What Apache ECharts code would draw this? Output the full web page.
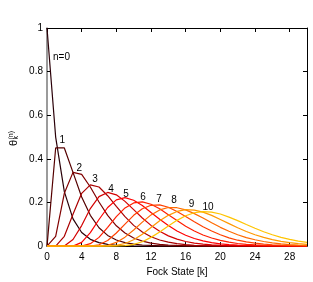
<!DOCTYPE html>
<html><head><meta charset="utf-8">
<script src="https://cdn.jsdelivr.net/npm/echarts@6/dist/echarts.min.js"></script>
<style>html,body{margin:0;padding:0;background:#fff}#c{width:313px;height:282px}</style>
</head><body><div id="c"></div>
<script>
const fockStates = [0,1,2,3,4,5,6,7,8,9,10,11,12,13,14,15,16,17,18,19,20,21,22,23,24,25,26,27,28,29,30];

const theta0 = [1,0.5,0.25,0.125,0.0625,0.031,0.016,0.008,0.004,0.002,0.001,0.0005,0,0,0,0,0,0,0,0,0,0,0,0,0,0,0,0,0,0,0];
const theta1 = [0,0.45,0.45,0.338,0.225,0.141,0.084,0.049,0.028,0.016,0.009,0.005,0.003,0.0014,0.0008,0.0004,0,0,0,0,0,0,0,0,0,0,0,0,0,0,0];
const theta2 = [0,0.045,0.242,0.338,0.329,0.271,0.202,0.141,0.093,0.060,0.037,0.023,0.014,0.008,0.005,0.003,0.0015,0.0008,0.0004,0,0,0,0,0,0,0,0,0,0,0,0];
const theta3 = [0,0,0.045,0.146,0.242,0.281,0.271,0.231,0.182,0.135,0.095,0.065,0.043,0.028,0.018,0.011,0.007,0.004,0.0025,0.0015,0.0008,0,0,0,0,0,0,0,0,0,0];
const theta4 = [0,0,0,0.03,0.094,0.172,0.227,0.246,0.235,0.205,0.167,0.129,0.095,0.068,0.047,0.032,0.021,0.014,0.009,0.0056,0.0035,0.0021,0.0014,0.0006,0,0,0,0,0,0,0];
const theta5 = [0,0,0,0,0.017,0.062,0.122,0.177,0.212,0.222,0.210,0.186,0.154,0.123,0.094,0.069,0.050,0.035,0.024,0.016,0.0105,0.0069,0.0045,0.0028,0.0017,0.0011,0.0004,0,0,0,0];
const theta6 = [0,0,0,0,0,0.011,0.040,0.086,0.135,0.175,0.198,0.203,0.192,0.171,0.144,0.117,0.091,0.069,0.051,0.037,0.026,0.018,0.012,0.008,0.0054,0.0035,0.0023,0.0015,0.001,0.0006,0.0004];
const theta7 = [0,0,0,0,0,0,0.006,0.026,0.060,0.101,0.141,0.171,0.187,0.189,0.178,0.159,0.136,0.112,0.089,0.069,0.052,0.038,0.027,0.019,0.0135,0.0092,0.0063,0.0042,0.0027,0.0018,0.0012];
const theta8 = [0,0,0,0,0,0,0,0.004,0.017,0.041,0.074,0.110,0.143,0.166,0.177,0.176,0.166,0.149,0.129,0.107,0.086,0.068,0.052,0.039,0.029,0.021,0.0147,0.0103,0.007,0.0049,0.0032];
const theta9 = [0,0,0,0,0,0,0,0,0.003,0.012,0.029,0.054,0.085,0.116,0.141,0.159,0.167,0.165,0.156,0.141,0.122,0.103,0.084,0.067,0.052,0.040,0.030,0.022,0.016,0.011,0.008];
const theta10 = [0,0,0,0,0,0,0,0,0,0.002,0.008,0.020,0.040,0.065,0.092,0.118,0.139,0.153,0.158,0.156,0.147,0.133,0.117,0.099,0.082,0.066,0.052,0.040,0.031,0.023,0.017];

const curveNames = ['n=0','1','2','3','4','5','6','7','8','9','10'];
const curveLabelK = [0.69,1.44,3.40,5.22,7.06,8.79,10.75,12.6,14.33,16.37,17.94];
const curveLabelV = [0.868,0.484,0.356,0.307,0.261,0.239,0.224,0.215,0.208,0.190,0.179];

const xTicks = [0,4,8,12,16,20,24,28];
const yTicks = [0,0.2,0.4,0.6,0.8,1];

const curves = [theta0,theta1,theta2,theta3,theta4,theta5,theta6,theta7,theta8,theta9,theta10];
const colors = ['#2a0008','#550000','#800000','#aa0000','#d40000','#ff0000','#ff1e00','#ff4000','#ff6a00','#ff9800','#ffc400'];

const FONT = '"Liberation Sans", Arial, Helvetica, sans-serif';
const chart = echarts.init(document.getElementById('c'), null, {renderer:'canvas'});

const lineSeries = curves.map((vals, i) => ({
  type: 'line',
  xAxisIndex: 0, yAxisIndex: 0,
  data: vals.map((v, j) => [fockStates[j], v]),
  showSymbol: false,
  symbol: 'none',
  lineStyle: {color: colors[i], width: 1.2},
  itemStyle: {color: colors[i]},
  z: 3 + i,
  silent: true
}));

const axisCommon = {
  splitLine: {show: false},
  axisTick: {show: true, inside: true, length: 4, lineStyle: {color: '#000', width: 1}},
  axisLine: {show: true, onZero: false, lineStyle: {color: '#000', width: 1}},
};

chart.setOption({
  animation: false,
  backgroundColor: '#fff',
  grid: {left: 47, right: 6, top: 28, bottom: 33.5, containLabel: false},
  xAxis: [
    Object.assign({}, axisCommon, {
      type: 'value', position: 'bottom', min: 0, max: 30, interval: 4,
      axisLabel: {show: true, margin: 6, fontFamily: FONT, fontSize: 10, color: '#000', showMaxLabel: false,
        formatter: v => (xTicks.indexOf(v) >= 0 ? String(v) : '')},
      name: 'Fock State [k]', nameLocation: 'middle', nameGap: 20,
      nameTextStyle: {fontFamily: FONT, fontSize: 10, color: '#000'}
    }),
    Object.assign({}, axisCommon, {
      type: 'value', position: 'top', min: 0, max: 30, interval: 4,
      axisLabel: {show: false}
    })
  ],
  yAxis: [
    Object.assign({}, axisCommon, {
      type: 'value', position: 'left', min: 0, max: 1, interval: 0.2,
      axisLine: {show: true, onZero: false, lineStyle: {color: '#7a7a7a', width: 1.5}},
      axisLabel: {show: true, margin: 4, fontFamily: FONT, fontSize: 10, color: '#000',
        formatter: v => { const t = yTicks.find(y => Math.abs(y - v) < 1e-9); return t === undefined ? '' : String(t); }}
    }),
    Object.assign({}, axisCommon, {
      type: 'value', position: 'right', min: 0, max: 1, interval: 0.2,
      axisLabel: {show: false}
    })
  ],
  series: lineSeries
});

// curve labels and rotated y-axis symbol, placed through the chart's own coordinate conversion
const labelGraphics = curveNames.map((nm, i) => {
  const p = chart.convertToPixel({gridIndex: 0}, [curveLabelK[i], curveLabelV[i]]);
  return {type: 'text', x: p[0], y: p[1], z: 50,
    style: {text: nm, fontFamily: FONT, fontSize: 10, fill: '#000', align: 'left', verticalAlign: 'middle'}};
});
const rot = Math.PI / 2;
const yName = [
  {type: 'text', x: 13.5, y: 146, rotation: rot, z: 50,
    style: {text: 'θ', fontFamily: FONT, fontSize: 11, fill: '#000', align: 'left', verticalAlign: 'middle'}},
  {type: 'text', x: 11, y: 139.5, rotation: rot, z: 50,
    style: {text: '(n)', fontFamily: FONT, fontSize: 7, fill: '#000', align: 'left', verticalAlign: 'middle'}},
  {type: 'text', x: 16.5, y: 139.5, rotation: rot, z: 50,
    style: {text: 'k', fontFamily: FONT, fontSize: 7, fill: '#000', align: 'left', verticalAlign: 'middle'}}
];
chart.setOption({graphic: labelGraphics.concat(yName)});
</script></body></html>
